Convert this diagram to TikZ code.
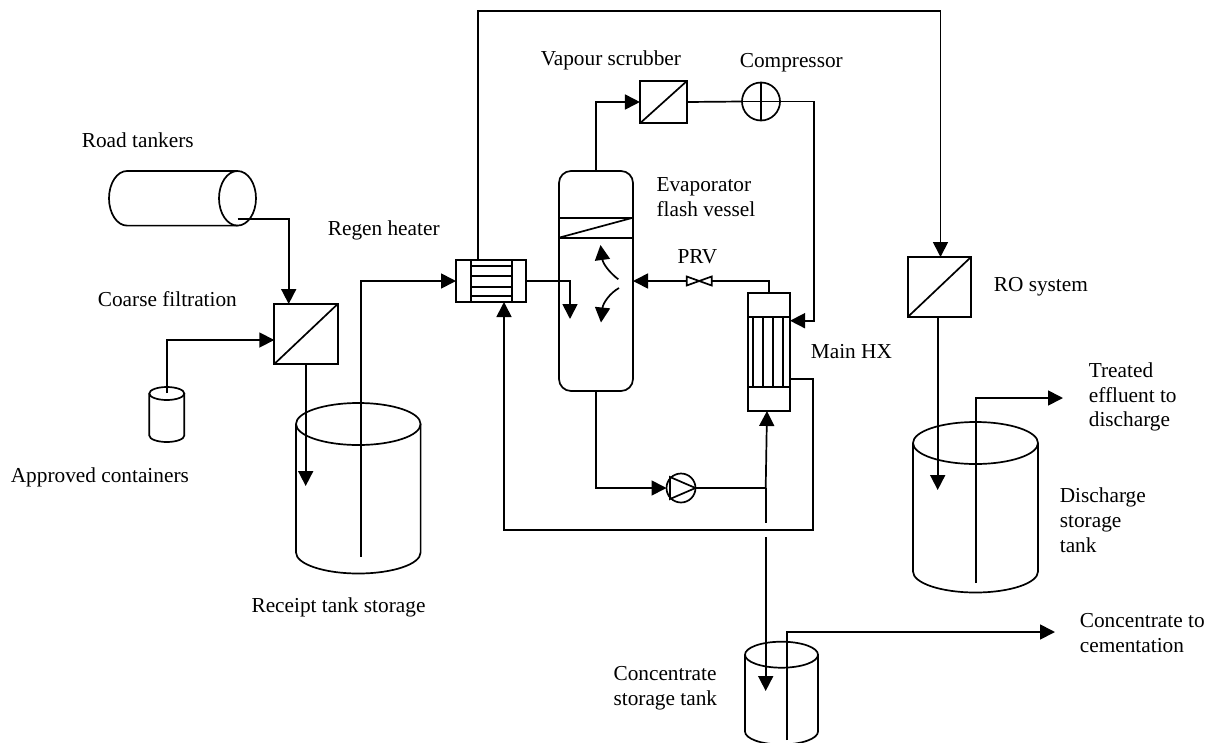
\documentclass[tikz,border=0pt]{standalone}
\usepackage{fontspec}
\setmainfont{Liberation Serif}
\usetikzlibrary{arrows.meta}

% #1 name, #2 centre x, #3 y of top ellipse, #4 y of bottom ellipse, #5 x radius, #6 y radius
\newcommand{\vat}[6]{
   \node[inner sep=0pt,outer sep=0pt,minimum width=2*#5,minimum height=#4-#3+2*#6] (#1) at (#2,{(#3+#4)/2}) {};
   \draw (#2,#3) ellipse [x radius=#5pt,y radius=#6pt];
   \draw (#1.west |- 0,#3) -- (#1.west |- 0,#4) arc [start angle=180,end angle=360,x radius=#5pt,y radius=#6pt] -- (#1.east |- 0,#3);
}

\begin{document}
\begin{tikzpicture}[x=1pt,y=-1pt,line width=1.7pt]
   \tikzset{pipe/.style={-{Triangle[length=15pt,width=15pt]}},
      lbl/.style={anchor=west,align=left,inner sep=0pt,font=\fontsize{21.3}{24.8}\selectfont},
      unit/.style 2 args={draw,rectangle,inner sep=0pt,outer sep=0pt,minimum width=#1,minimum height=#2}};

\useasboundingbox (0,0) rectangle (1208,742);

% storage
\node[inner sep=0pt,minimum width=147,minimum height=54.7] (road) at (182.5,198.3) {};
\draw (237.5,198.3) ellipse [x radius=18.5pt,y radius=27.3pt];
\draw (237.5,171) -- (127,171) arc [start angle=90,end angle=270,x radius=18pt,y radius=27.3pt] -- (237.5,225.6);
\vat{drum}{166.8}{393.5}{435.5}{17.5}{6.5}
\vat{receipt}{358.3}{424}{552.5}{62.3}{21}
\vat{discharge}{975.5}{443}{571.5}{62.5}{21}
\vat{conc}{781.5}{654.7}{731.5}{36.5}{13}

% filters
\node[unit={63.4}{60}] (coarse) at (306,334) {};
\draw (coarse.south west) -- (coarse.north east);
\node[unit={47.3}{42.6}] (scrubber) at (663.6,102) {};
\draw (scrubber.south west) -- (scrubber.north east);
\node[unit={63.3}{60}] (ro) at (939.4,287) {};
\draw (ro.south west) -- (ro.north east);

% regen heater
\node[unit={70}{42}] (regen) at (491,281) {};
\draw (470.7,260) -- (470.7,302);
\draw (511.7,260) -- (511.7,302);
\foreach \y in {266,275.7,286.7,296}{
   \draw (470.7,\y) -- (511.7,\y);
}

% flash vessel
\node[unit={74}{220},rounded corners=12pt] (vessel) at (596,281) {};
\draw (559,217.7) -- (633,217.7);
\draw (559,237.7) -- (633,237.7);
\draw (559,237.7) -- (633,217.7);
\draw[pipe] (618.3,279.3) .. controls (610,273) and (603,264) .. (600.5,245);
\draw[pipe] (619,288) .. controls (610,293) and (603,303) .. (601,322.5);

% main HX
\node[unit={42}{118}] (main) at (769,352) {};
\draw (748,317) -- (790,317);
\draw (748,387) -- (790,387);
\foreach \x in {753,763,773,783}{
   \draw (\x,317) -- (\x,387);
}

% compressor, pump, valve
\node[draw,circle,inner sep=0pt,outer sep=0pt,minimum size=38] (comp) at (761,101.5) {};
\draw (comp.west) -- (comp.east);
\draw (comp.north) -- (comp.south);
\node[draw,circle,inner sep=0pt,outer sep=0pt,minimum size=29] (pump) at (681,488) {};
\draw (670,477) -- (670,499) -- (pump.east) -- cycle;
\node[inner sep=0pt,outer sep=0pt,minimum width=25,minimum height=9] (prv) at (699.2,281) {};
\draw (prv.north west) -- (prv.south east) -- (prv.north east) -- (prv.south west) -- cycle;

% pipe ends
\coordinate (roadout) at (237.7,219);
\coordinate (drumout) at (166.7,393);
\coordinate (coarseout) at (305.7,363);
\coordinate (receipttip) at (305.7,486);
\coordinate (receiptout) at (361,556.7);
\coordinate (regenup) at (478,260);
\coordinate (topright) at (940.5,11);
\coordinate (regenback) at (504,530);
\coordinate (vesseltip) at (570,319);
\coordinate (mainout) at (812.7,379);
\coordinate (mainin) at (814,320.7);
\coordinate (tee) at (765.7,488);
\coordinate (gaptop) at (765.7,523);
\coordinate (gapbot) at (765.7,537);
\coordinate (conctip) at (765.7,691);
\coordinate (concout) at (786.7,740);
\coordinate (concend) at (1055,632);
\coordinate (rotip) at (937.7,490);
\coordinate (disout) at (976,583);
\coordinate (disend) at (1063,398);

% pipes
\draw[pipe] (roadout) -| (coarse.north -| 288.7,0);
\draw[pipe] (drumout) |- (coarse.west |- 0,340);
\draw[pipe] (coarseout) -- (receipttip);
\draw[pipe] (receiptout) |- (regen.west);
\draw[pipe] (regenup) |- (topright) -- (ro.north -| topright);
\draw[pipe] (regen.east) -| (vesseltip);
\draw[pipe] (vessel.north) |- (scrubber.west);
\draw (scrubber.east) -- (comp.west);
\draw[pipe] (comp.east) -| (mainin) -- (main.east |- mainin);
\draw (main.north) |- (prv.east);
\draw[pipe] (prv.west) -- (vessel.east);
\draw[pipe] (vessel.south) |- (pump.west);
\draw (pump.east) -- (tee);
\draw[pipe] (tee) -- (main.south -| 767,0);
\draw (tee) -- (gaptop);
\draw[pipe] (gapbot) -- (conctip);
\draw[pipe] (mainout -| main.east) -| (regenback -| mainout) -- (regenback) -- (regen.south -| regenback);
\draw[pipe] (concout) |- (concend);
\draw[pipe] (ro.south -| rotip) -- (rotip);
\draw[pipe] (disout) |- (disend);

% labels
\node[lbl] (roadlbl) at (81,140) {Road tankers};
\node[lbl] (regenlbl) at (327,230) {Regen heater};
\node[lbl] (coarselbl) at (97,299) {Coarse filtration};
\node[lbl] (drumlbl) at (10,477) {Approved containers};
\node[lbl] (receiptlbl) at (250.7,607) {Receipt tank storage};
\node[lbl] (scrubberlbl) at (540,60) {Vapour scrubber};
\node[lbl] (complbl) at (739,63) {Compressor};
\node[lbl] (vessellbl) at (655.7,197) {Evaporator\\flash vessel};
\node[lbl] (prvlbl) at (676.7,257) {PRV};
\node[lbl] (mainlbl) at (810,352) {Main HX};
\node[lbl] (rolbl) at (993,287) {RO system};
\node[lbl] (treatedlbl) at (1088,397) {Treated\\effluent to\\discharge};
\node[lbl] (dislbl) at (1059,520) {Discharge\\storage\\tank};
\node[lbl] (conclbl) at (612.7,688) {Concentrate\\storage tank};
\node[lbl] (cementlbl) at (1079,633) {Concentrate to\\cementation};

\end{tikzpicture}
\end{document}
